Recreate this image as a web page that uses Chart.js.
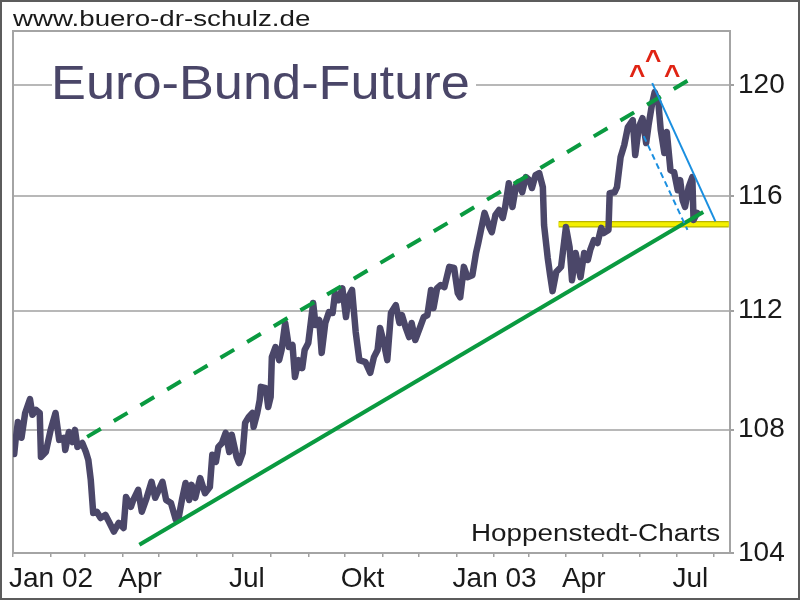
<!DOCTYPE html>
<html><head><meta charset="utf-8">
<script src="https://cdn.jsdelivr.net/npm/chart.js@4.4.1/dist/chart.umd.min.js"></script>
<style>
html,body{margin:0;padding:0;background:#fff;}
#wrap{position:relative;width:800px;height:600px;overflow:hidden;font-family:"Liberation Sans",Arial,sans-serif;}
canvas{position:absolute;left:0;top:0;}
.t{position:absolute;white-space:nowrap;line-height:1;transform-origin:0 0;}
#frame{position:absolute;left:0;top:0;width:800px;height:600px;box-sizing:border-box;border:2px solid #5c5c5c;pointer-events:none;}
</style></head><body>
<div id="wrap">
<canvas id="c" width="800" height="600"></canvas>
<div class="t" style="left:13px;top:8.4px;font-size:22px;color:#1a1a1a;transform:scaleX(1.26)">www.buero-dr-schulz.de</div>
<div style="position:absolute;left:52px;top:78px;width:424px;height:14px;background:#fff"></div>
<div class="t" style="left:51px;top:59px;font-size:48px;color:#4a4668;transform:scaleX(1.09)">Euro-Bund-Future</div>
<div class="t" style="left:471px;top:522px;font-size:23px;color:#1a1a1a;transform:scaleX(1.21)">Hoppenstedt-Charts</div>
<div class="t" style="left:629px;top:61.3px;font-size:28px;font-weight:bold;color:#e02414">^</div>
<div class="t" style="left:645px;top:46.3px;font-size:28px;font-weight:bold;color:#e02414">^</div>
<div class="t" style="left:664px;top:61.3px;font-size:28px;font-weight:bold;color:#e02414">^</div>
<div id="frame"></div>
</div>
<script>
// x values: days since 1 Jan 2002
const seriesDays = [1,2,4,7,10,14,16,19,22,23,27,31,35,38,42,43,46,49,51,53,57,60,62,64,66,69,72,76,79,83,87,91,93,97,99,103,106,110,114,117,120,123,126,130,134,136,139,142,145,147,150,154,158,162,164,167,169,172,175,178,180,184,186,189,191,194,197,198,201,203,204,208,210,212,213,216,219,221,224,227,230,232,235,238,240,243,247,249,252,254,257,260,263,265,268,271,274,276,279,282,285,290,294,297,300,302,305,308,311,315,318,320,323,326,328,331,335,338,341,344,346,349,352,355,359,363,366,368,371,374,378,381,383,388,392,394,397,400,403,405,408,411,414,416,419,422,425,427,430,433,436,437,440,442,444,447,451,455,458,460,463,467,470,473,475,478,481,484,486,490,491,495,497,500,503,506,510,512,515,518,521,523,526,528,531,533,536,538,541,544,547,549,551,553,556,559,560,563];
const seriesPrices = [107.2,107.6,108.25,107.73,108.55,109.01,108.49,108.65,108.55,107.10,107.26,107.99,108.55,107.66,107.73,107.33,107.92,107.59,107.99,107.43,107.56,107.26,107.00,106.35,105.28,105.32,105.12,105.22,105.00,104.68,104.96,104.80,105.80,105.48,105.70,106.03,105.32,105.77,106.29,105.77,106.03,106.29,105.70,105.60,105.06,105.06,105.70,106.25,105.70,106.19,105.77,106.41,105.92,106.12,107.17,106.94,107.43,107.56,107.89,107.26,107.83,107.10,106.90,107.23,108.22,108.42,108.55,108.09,108.55,108.98,109.42,109.38,108.75,109.08,110.42,110.76,110.32,110.66,111.58,110.76,110.83,109.75,110.32,110.05,110.66,110.90,112.26,111.51,111.68,110.56,111.58,111.95,111.92,112.60,112.36,112.77,111.78,112.46,112.71,111.27,110.32,110.25,109.89,110.42,110.66,111.41,110.93,110.32,111.92,112.19,111.58,111.85,111.44,111.10,111.58,111.00,111.44,111.78,111.85,112.71,112.09,112.77,112.88,112.81,113.51,113.47,112.60,112.46,113.51,113.15,113.22,113.99,114.37,115.40,114.90,114.72,115.33,115.50,115.22,115.61,116.45,115.61,116.38,116.49,116.13,116.67,116.56,116.28,116.74,116.81,116.31,114.97,113.82,113.22,112.67,113.33,113.51,114.90,114.20,113.05,113.99,113.15,113.99,113.75,114.10,114.44,114.34,114.87,114.69,114.80,116.10,116.13,116.31,117.39,117.82,118.47,118.72,117.46,118.47,118.79,117.89,118.54,119.34,119.74,119.38,118.36,117.53,118.29,116.92,116.85,116.20,116.56,115.85,115.61,116.31,116.67,115.15,115.40];

// trend lines (day, price)
const resistanceDays = [61, 560];
const resistancePrices = [107.76, 120.29];
const supportDays = [104, 568];
const supportPrices = [104.26, 115.43];
const downTrendDays = [526, 578];
const downTrendPrices = [120.07, 115.10];
const innerDownDays = [519, 555];
const innerDownPrices = [118.14, 114.80];
const zoneDays = [449, 589];
const zonePrices = [115.0, 115.0];

// axes
const monthLabels = ['Jan 02','','','Apr','','','Jul','','','Okt','','','Jan 03','','','Apr','','','Jul',''];
const yTicks = [104, 108, 112, 116, 120];
const yMin = 104, yMax = 122, xMin = 0, xMax = 590;

const base = Date.UTC(2002, 0, 1);
const monthDays = monthLabels.map((_, i) => Math.round((Date.UTC(2002, i, 1) - base) / 86400000));
const pts = (xs, ys) => xs.map((x, i) => ({x: x, y: ys[i]}));

const framePlugin = {
  id: 'frame',
  beforeDatasetsDraw(chart) {
    const {ctx, chartArea: a} = chart;
    ctx.save();
    ctx.strokeStyle = '#a4a4a4';
    ctx.lineWidth = 2;
    ctx.strokeRect(a.left, a.top, a.right - a.left, a.bottom - a.top);
    ctx.restore();
  }
};

const lineDs = (data, color, width, dash, extra) => Object.assign({
  data: data, borderColor: color, borderWidth: width, borderDash: dash || [],
  pointRadius: 0, fill: false, tension: 0, borderCapStyle: 'butt'
}, extra || {});

new Chart(document.getElementById('c'), {
  type: 'line',
  data: {
    datasets: [
      lineDs(pts(downTrendDays, downTrendPrices), '#1a8fe0', 2),
      lineDs(pts(innerDownDays, innerDownPrices), '#1a8fe0', 2, [6, 4]),
      lineDs(pts(resistanceDays, resistancePrices), '#0a9a40', 4, [16, 15]),
      lineDs(pts(supportDays, supportPrices), '#0a9a40', 4),
      lineDs(pts(seriesDays, seriesPrices), '#4b4769', 6.5, [], {borderJoinStyle: 'round', borderCapStyle: 'round'}),
      lineDs(pts(zoneDays, zonePrices), '#f4f000', 4),
      lineDs(pts(zoneDays, zonePrices), '#b8b400', 6.5)
    ]
  },
  options: {
    responsive: false,
    animation: false,
    devicePixelRatio: 1,
    layout: {padding: {top: 31, left: 13, right: 0, bottom: 0}},
    plugins: {legend: {display: false}, tooltip: {enabled: false}},
    scales: {
      x: {
        type: 'linear', min: xMin, max: xMax, position: 'bottom',
        afterBuildTicks: s => { s.ticks = monthDays.map(v => ({value: v})); },
        afterFit: s => { s.height = 47; s.paddingLeft = 0; s.paddingRight = 0; },
        grid: {drawOnChartArea: false, drawTicks: true, tickLength: 4, color: '#a0a0a0', lineWidth: 1.5},
        border: {display: false},
        ticks: {
          autoSkip: false, maxRotation: 0, minRotation: 0, align: 'start', labelOffset: -4, padding: 5,
          color: '#1a1a1a', font: {family: '"Liberation Sans", Arial, sans-serif', size: 28},
          callback: (v, i) => monthLabels[i]
        }
      },
      y: {
        type: 'logarithmic', min: yMin, max: yMax, position: 'right',
        afterBuildTicks: s => { s.ticks = yTicks.map(v => ({value: v})); },
        afterFit: s => { s.width = 70; s.paddingTop = 0; s.paddingBottom = 0; },
        grid: {color: '#b8b8b8', lineWidth: 2, drawTicks: true, tickLength: 4, tickColor: '#a0a0a0'},
        border: {display: false},
        ticks: {
          padding: 4, color: '#1a1a1a', font: {family: '"Liberation Sans", Arial, sans-serif', size: 28},
          callback: v => String(v)
        }
      }
    }
  },
  plugins: [framePlugin]
});
</script>
</body></html>
